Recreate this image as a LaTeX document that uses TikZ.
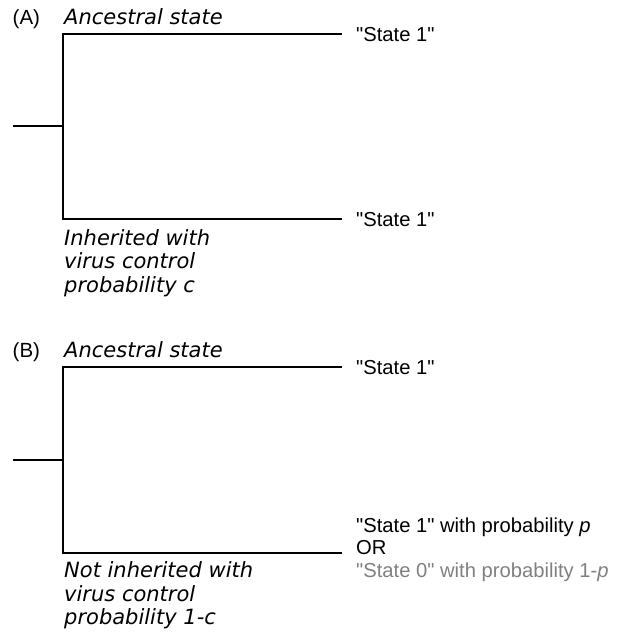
\documentclass[tikz,border=0pt]{standalone}
\usepackage{fontspec}
\setmainfont{Liberation Sans}[Ligatures=TeXOff]
\newfontfamily\lblfont{DejaVu Sans}
\definecolor{grey0}{HTML}{808080}
\tikzset{
  branch/.style={line width=2.4pt, line join=miter},
  panel/.style={anchor=base west, inner sep=0pt, font=\fontsize{20.5}{23}\selectfont},
  note/.style={anchor=base west, inner sep=0pt, font=\lblfont\itshape\fontsize{21}{23.7}\selectfont},
  leaf/.style={anchor=base west, inner sep=0pt, font=\fontsize{20.2}{22.5}\selectfont},
}
\begin{document}
\begin{tikzpicture}[x=1pt,y=-1pt]
\useasboundingbox (0,0) rectangle (618,635);
% Panel A
\coordinate (Ar) at (13,126);
\coordinate (Aj) at (63,126);
\coordinate (At) at (63,34);
\coordinate (Ab) at (63,219);
\coordinate (Ate) at (342,34);
\coordinate (Abe) at (342,219);
\draw[branch] (Ar) -- (Aj);
\draw[branch] (Ate) -- (At) -- (Ab) -- (Abe);
\node[panel] (Alab) at (12.5,24) {(A)};
\node[note] (Aanc) at (64,24) {Ancestral state};
\node[leaf] (As1) at (356,41.5) {"State 1"};
\node[leaf] (As2) at (356,226.5) {"State 1"};
\node[note] (Ainh) at (64,245) {\vtop{\hbox{Inherited with}\hbox{virus control}\hbox{probability c}}};
% Panel B
\coordinate (Br) at (13,460);
\coordinate (Bj) at (63,460);
\coordinate (Bt) at (63,367);
\coordinate (Bb) at (63,553);
\coordinate (Bte) at (342,367);
\coordinate (Bbe) at (342,553);
\draw[branch] (Br) -- (Bj);
\draw[branch] (Bte) -- (Bt) -- (Bb) -- (Bbe);
\node[panel] (Blab) at (12.5,357) {(B)};
\node[note] (Banc) at (64,357) {Ancestral state};
\node[leaf] (Bs1) at (356,374.5) {"State 1"};
\node[leaf] (Bs2) at (356,532) {\vtop{\hbox{"State 1" with probability \textit{p}}\hbox{OR}\hbox{\color{grey0}"State 0" with probability 1-\textit{p}}}};
\node[note] (Binh) at (64,577.5) {\vtop{\hbox{Not inherited with}\hbox{virus control}\hbox{probability 1-c}}};
\end{tikzpicture}
\end{document}
